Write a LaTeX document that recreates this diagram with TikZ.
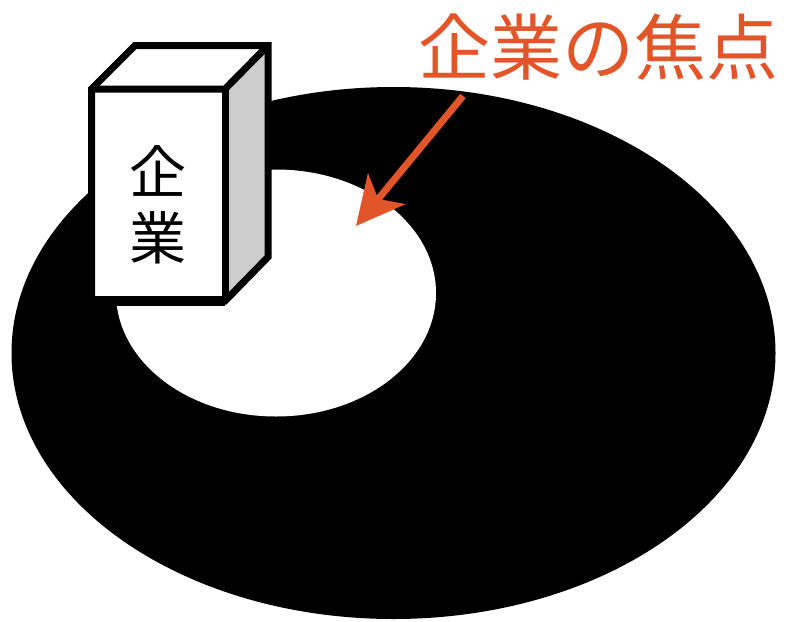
\documentclass[tikz,border=0pt]{standalone}
\usepackage{fontspec}
\newfontfamily\cjk{Noto Sans CJK JP}
\usetikzlibrary{arrows.meta}
\definecolor{focusorange}{HTML}{E25528}
\definecolor{sidegray}{HTML}{CCCCCC}
\tikzset{
  boxedge/.style={draw=black, line width=7pt, line join=miter},
  boxlabel/.style={inner sep=0pt, font=\cjk\fontsize{57}{57}\selectfont},
  focuslabel/.style={inner sep=0pt, text=focusorange, font=\cjk\fontsize{72}{72}\selectfont},
  focusarrow/.style={draw=focusorange, line width=7pt,
    -{Stealth[length=48pt, width=48pt, inset=13pt]}}
}
\begin{document}
\begin{tikzpicture}[x=1pt, y=-1pt]
  \useasboundingbox (0,0) rectangle (786,621);
  % the market ring and the company's focus in its middle
  \fill[black] (393.5,353) ellipse [x radius=382pt, y radius=266pt];
  \fill[white] (276,293) ellipse [x radius=160pt, y radius=123.5pt];
  % corners of the company block
  \coordinate (ftl) at (91.5,89);
  \coordinate (ftr) at (225,89);
  \coordinate (fbr) at (225,301);
  \coordinate (fbl) at (91.5,301);
  \coordinate (btl) at (135,45.5);
  \coordinate (btr) at (268,45.5);
  \coordinate (bbr) at (268,257);
  % faces
  \fill[white] (ftl) -- (btl) -- (btr) -- (ftr) -- cycle;
  \fill[sidegray] (ftr) -- (btr) -- (bbr) -- (fbr) -- cycle;
  \fill[white] (ftl) rectangle (fbr);
  % outline and inner edges
  \draw[boxedge] (fbl) -- (ftl) -- (btl) -- (btr) -- (bbr) -- (fbr) -- cycle;
  \draw[boxedge] (ftl) -- (ftr) -- (btr);
  \draw[boxedge] (ftr) -- (fbr);
  \draw[black, line width=10pt] ([xshift=-3.5pt]fbl) -- (fbr);
  \node[boxlabel] (kigyo1) at (158,171) {企};
  \node[boxlabel] (kigyo2) at (158,238) {業};
  % the focus caption and its pointer
  \node[focuslabel] (focus) at (598,47) {企業の焦点};
  \coordinate (from) at (463,96);
  \coordinate (tip) at (356,226);
  \draw[focusarrow] (from) -- (tip);
\end{tikzpicture}
\end{document}
